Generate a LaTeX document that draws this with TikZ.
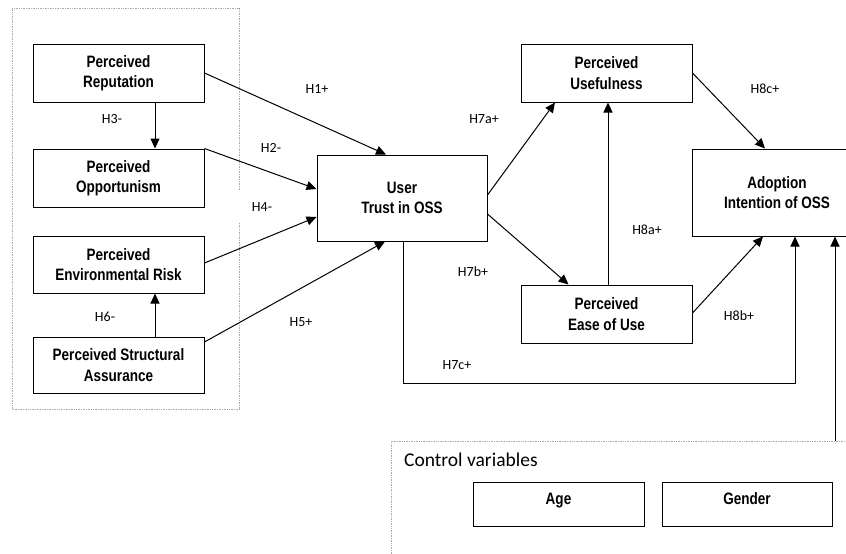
\documentclass[tikz,border=0pt]{standalone}
\usepackage{fontspec}
\setmainfont{Carlito}
\newfontfamily\boxfont[FakeStretch=0.82]{Liberation Sans}
\usetikzlibrary{arrows.meta}
\begin{document}
\begin{tikzpicture}[x=1pt,y=-1pt,
  box/.style={draw, line width=1pt, minimum width=171pt, minimum height=58pt,
    align=center, inner sep=0pt,
    font=\boxfont\bfseries\fontsize{16.5}{20.5}\selectfont},
  bigbox/.style={box, minimum width=170pt, minimum height=86pt},
  cbox/.style={box, minimum height=44pt, text height=12pt, text depth=12pt},
  arr/.style={draw, line width=1pt, -{Triangle[length=10pt,width=9pt]}},
  lbl/.style={font=\fontsize{14}{16}\selectfont, inner sep=0pt},
  dots/.style={draw=gray!65, line width=0.7pt, densely dotted}
]
\useasboundingbox (0,0) rectangle (846,554);

% dotted grouping frames
\draw[dots] (239,190) -- (239,8) -- (12,8) -- (12,409) -- (239,409) -- (239,222);
\draw[dots] (391,554) -- (391,441) -- (846,441);

% nodes
\node[box] (rep) at (118.5,73) {Perceived\\Reputation};
\node[box] (opp) at (118.5,178) {Perceived\\Opportunism};
\node[box, minimum height=57pt] (env) at (118.5,264.5) {Perceived\\Environmental Risk};
\node[box, minimum height=56pt] (sa) at (118.5,365) {Perceived Structural\\Assurance};
\node[bigbox] (trust) at (402,198) {User\\Trust in OSS};
\node[box] (pu) at (606.5,73) {Perceived\\Usefulness};
\node[box] (peou) at (606.5,314) {Perceived\\Ease of Use};
\node[bigbox, minimum height=87pt] (ai) at (777,192.5) {Adoption\\Intention of OSS};
\node[cbox] (age) at (558.5,504) {Age};
\node[cbox, minimum width=170pt] (gender) at (747,504) {Gender};
\node[anchor=base west, inner sep=0pt, font=\fontsize{19.5}{22}\selectfont] (ctrl) at (404,466) {Control variables};

\coordinate (h7c) at (795,383);
\coordinate (ctl) at (835,441);

% connectors
\draw[arr] ([xshift=36.5pt]rep.south) -- ([xshift=36.5pt]opp.north);
\draw[arr] ([xshift=36.5pt]sa.north) -- ([xshift=36.5pt]env.south);
\draw[arr] (rep.east) -- ([xshift=-16pt]trust.north);
\draw[arr] (opp.north east) -- ([yshift=9pt]trust.west);
\draw[arr] ([yshift=1.5pt]env.east) -- ([yshift=-19pt]trust.west);
\draw[arr] ([yshift=23pt]sa.east) -- ([xshift=-17pt]trust.south);
\draw[arr] ([yshift=3pt]trust.east) -- ([xshift=-51.5pt]pu.south);
\draw[arr] ([yshift=-16pt]trust.east) -- ([xshift=-38pt]peou.north);
\draw[arr] ([xshift=1.5pt]peou.north) -- ([xshift=1.5pt]pu.south);
\draw[arr] (pu.east) -- ([xshift=-12pt]ai.north);
\draw[arr] ([yshift=1pt]peou.east) -- ([xshift=-14pt]ai.south);
\draw[arr] ([xshift=1pt]trust.south) |- (h7c) -- ([xshift=18pt]ai.south);
\draw[arr] (ctl) -- ([xshift=58pt]ai.south);

% labels
\node[lbl] (l1) at (317,89) {H1+};
\node[lbl] (l2) at (271,148) {H2-};
\node[lbl] (l3) at (112,119) {H3-};
\node[lbl] (l4) at (262,207) {H4-};
\node[lbl] (l5) at (301,322) {H5+};
\node[lbl] (l6) at (105,317) {H6-};
\node[lbl] (l7a) at (484,119) {H7a+};
\node[lbl] (l7b) at (473,272) {H7b+};
\node[lbl] (l7c) at (457,365) {H7c+};
\node[lbl] (l8a) at (647,230) {H8a+};
\node[lbl] (l8b) at (739,316) {H8b+};
\node[lbl] (l8c) at (765,89) {H8c+};
\end{tikzpicture}
\end{document}
